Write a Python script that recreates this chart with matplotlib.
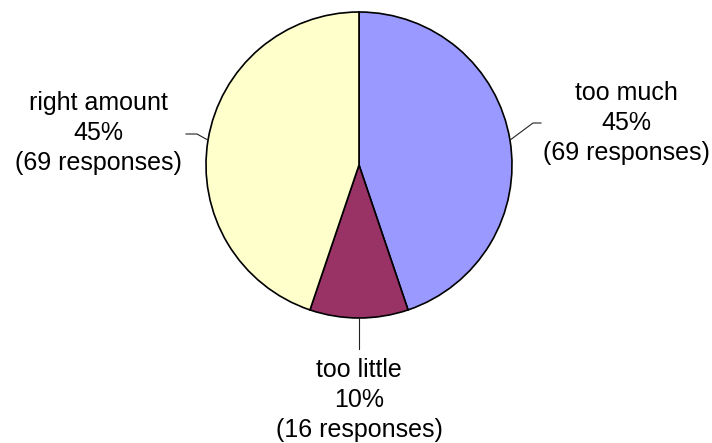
import numpy as np
import matplotlib
matplotlib.use("Agg")
import matplotlib.pyplot as plt

plt.rcParams["font.family"] = ["Liberation Sans", "DejaVu Sans"]

labels = ["too much", "too little", "right amount"]
responses = [69, 16, 69]
colors = ["#9999FF", "#993366", "#FFFFCC"]

W, H = 712, 443
CX, CY, R = 359, H - 165, 153

# label text centre and leader elbow/end points (pixel coords, y up)
label_pos = [(626, H - 123), (359, H - 400), (98, H - 133)]
elbows = [[(533, H - 123), (541, H - 123)],
          [(359, H - 349)],
          [(197, H - 134), (186, H - 134)]]

fig = plt.figure(figsize=(W / 100, H / 100), dpi=100)
ax = fig.add_axes([0, 0, 1, 1])

wedges, _ = ax.pie(responses, colors=colors, startangle=90, counterclock=False,
                   center=(CX, CY), radius=R, frame=True,
                   wedgeprops=dict(edgecolor="black", linewidth=1.2))
ax.set_xlim(0, W)
ax.set_ylim(0, H)
ax.set_aspect("equal")
ax.axis("off")

total = sum(responses)
for w, lab, n, pos, pts in zip(wedges, labels, responses, label_pos, elbows):
    mid = np.deg2rad((w.theta1 + w.theta2) / 2)
    start = (CX + R * np.cos(mid), CY + R * np.sin(mid))
    xs = [start[0]] + [p[0] for p in pts]
    ys = [start[1]] + [p[1] for p in pts]
    ax.plot(xs, ys, color="#222222", linewidth=0.8)
    pct = round(100 * n / total)
    ax.text(pos[0], pos[1], f"{lab}\n{pct}%\n({n} responses)", ha="center", va="center",
            fontsize=18, linespacing=1.3, color="black")

fig.savefig("out.png", dpi=100)
